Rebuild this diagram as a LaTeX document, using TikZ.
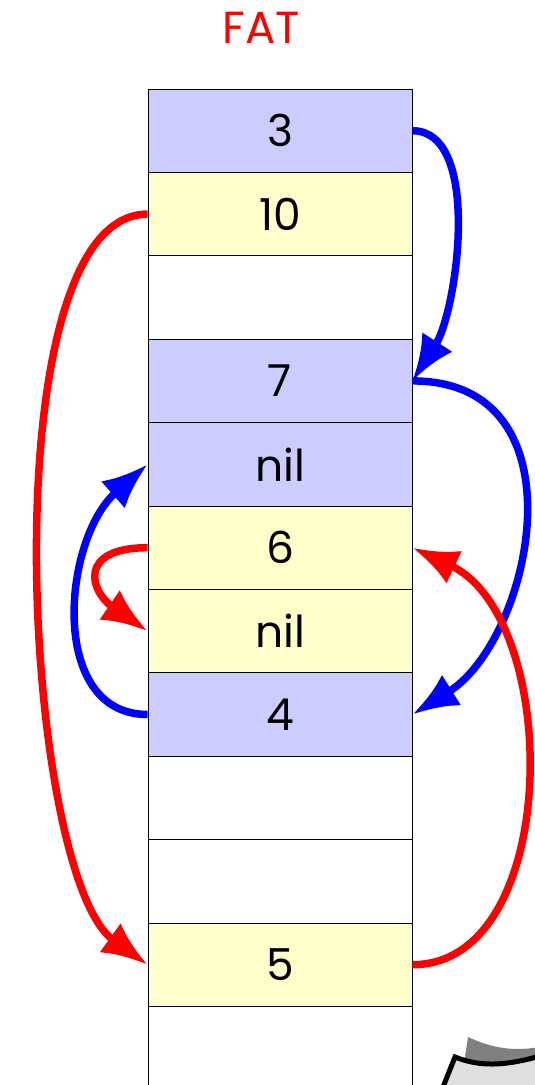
\documentclass[tikz,border=0pt]{standalone}
\usepackage{fontspec}
\setmainfont{Poppins}
\usetikzlibrary{arrows.meta}
\definecolor{fatblue}{HTML}{CCCCFF}
\definecolor{fatyellow}{HTML}{FFFFCC}
\begin{document}
\begin{tikzpicture}[x=1pt,y=-1pt]
		\tikzstyle cell_style=[draw=black,line width=0.8pt,minimum width=264pt,minimum height=83.4pt,inner sep=0pt,font=\fontsize{44}{50}\selectfont];
		\tikzstyle link_style=[line width=7.5pt,-{Latex[length=46pt,width=36pt]}];
		\useasboundingbox (0,0) rectangle (535,1085);
		\clip (0,0) rectangle (535,1085);

		% TITLE
		\node[red,font=\fontsize{45}{52}\selectfont] (title) at (261,28) {FAT};

		% TABLE CELLS
		\foreach \i/\txt/\col in {0/3/fatblue, 1/10/fatyellow, 2//white, 3/7/fatblue,
				4/nil/fatblue, 5/6/fatyellow, 6/nil/fatyellow, 7/4/fatblue,
				8//white, 9//white, 10/5/fatyellow, 11//white}
			\node[style=cell_style,fill=\col] (c\i) at (280,130.7+83.4*\i) {\txt};

		% BLUE CHAIN 3 -> 7 -> 4 -> nil
		\draw[style=link_style,blue] (c0.east) .. controls +(70,0) and +(45,-70) .. (c3.east);
		\draw[style=link_style,blue] (c3.east) .. controls +(175,0) and +(120,-75) .. (c7.east);
		\draw[style=link_style,blue] (c7.west) .. controls +(-100,0) and +(-85,75) .. (c4.west);

		% RED CHAIN 10 -> 5 -> 6 -> nil
		\draw[style=link_style,red] (c1.west) .. controls +(-160,0) and +(-125,-90) .. (c10.west);
		\draw[style=link_style,red] (c10.east) .. controls +(150,0) and +(150,70) .. (c5.east);
		\draw[style=link_style,red] (c5.west) .. controls +(-70,0) and +(-58,-40) .. (c6.west);

		% PAGE CORNER
		\fill[gray] (468,1037) .. controls (490,1047) and (510,1052) .. (540,1047) -- (540,1090) -- (460,1090) -- cycle;
		\filldraw[fill=gray!25,line width=5pt] (441,1092) -- (455,1057) .. controls (480,1067) and (505,1066) .. (540,1056) -- (540,1092);
\end{tikzpicture}
\end{document}
